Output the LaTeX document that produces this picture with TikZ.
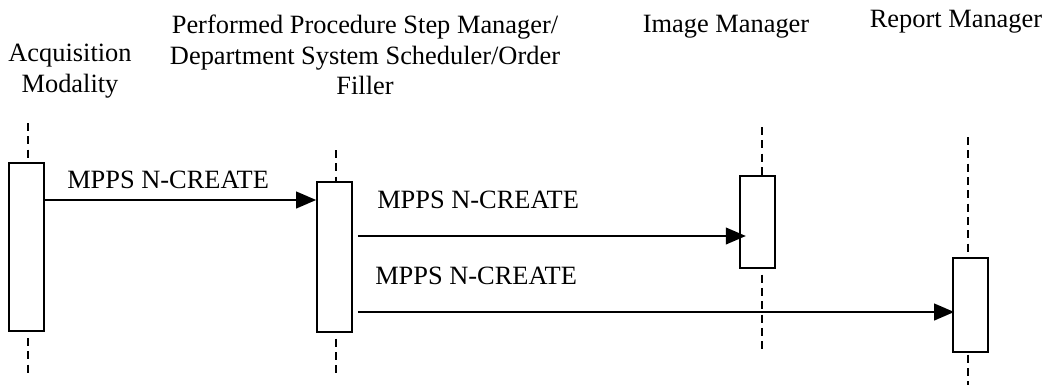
\documentclass[tikz,border=0pt]{standalone}
\usepackage{fontspec}
\setmainfont{Liberation Serif}
\usetikzlibrary{arrows.meta}
\begin{document}
\begin{tikzpicture}[x=0.75pt,y=-0.75pt,
  every node/.style={font=\fontsize{19.8pt}{22.9pt}\selectfont, inner sep=0pt},
  actbox/.style={draw, line width=1.5pt, fill=white, minimum width=26pt, minimum height=#1},
  lifeline/.style={line width=1.5pt, dash pattern=on 6pt off 4pt},
  msg/.style={line width=1.5pt, -{Triangle[length=15pt,width=12.5pt]}},
  hdr/.style={align=center, anchor=north}]
\useasboundingbox (0,0) rectangle (1048,385);

% headers
\node[hdr] (hAM) at (70,44) {Acquisition\\Modality};
\node[hdr] (hPP) at (365,15) {Performed Procedure Step Manager/\\Department System Scheduler/Order\\Filler};
\node[anchor=base] (hIM) at (726,33) {Image Manager};
\node[anchor=base] (hRM) at (956,28) {Report Manager};

% lifeline end points
\coordinate (amT) at (28,123);  \coordinate (amB) at (28,373);
\coordinate (ppT) at (336,150); \coordinate (ppB) at (336,373);
\coordinate (imT) at (762,127); \coordinate (imB) at (762,350);
\coordinate (rmT) at (968,137); \coordinate (rmB) at (968,385);

% activation boxes (positions only)
\path (26.5,247) node[actbox=126pt] (am) {};
\path (334.5,257) node[actbox=112pt] (pp) {};
\path (757.5,221.5) node[actbox=69pt] (im) {};
\path (970.5,305) node[actbox=70pt] (rm) {};

% lifelines
\draw[lifeline] (amT) -- (amT |- am.north);
\draw[lifeline] (amB |- am.south) ++(0,6) -- (amB);
\draw[lifeline] (ppT) -- (ppT |- pp.north);
\draw[lifeline] (ppB |- pp.south) ++(0,6) -- (ppB);
\draw[lifeline] (imT) -- (imT |- im.north);
\draw[lifeline] (imB |- im.south) ++(0,6) -- (imB);
\draw[lifeline] (rmT) -- (rmT |- rm.north);
\draw[lifeline] (rmB |- rm.south) ++(0,2) -- (rmB);

% redraw boxes above lifelines
\path (26.5,247) node[actbox=126pt] {};
\path (334.5,257) node[actbox=112pt] {};
\path (757.5,221.5) node[actbox=69pt] {};
\path (970.5,305) node[actbox=70pt] {};

% message levels
\coordinate (m1) at (0,200);
\coordinate (m2) at (0,236);
\coordinate (m3) at (0,312);

\draw[msg] (am.east |- m1) -- (pp.west |- m1);
\draw[msg] ([xshift=3.75pt]pp.east |- m2) -- ([xshift=5pt]im.west |- m2);
\draw[msg] ([xshift=3.75pt]pp.east |- m3) -- ([xshift=1.5pt]rm.west |- m3);

% message labels
\node[anchor=base west] (l1) at (67,188) {MPPS N-CREATE};
\node[anchor=base west] (l2) at (377,208) {MPPS N-CREATE};
\node[anchor=base west] (l3) at (375,284) {MPPS N-CREATE};
\end{tikzpicture}
\end{document}
